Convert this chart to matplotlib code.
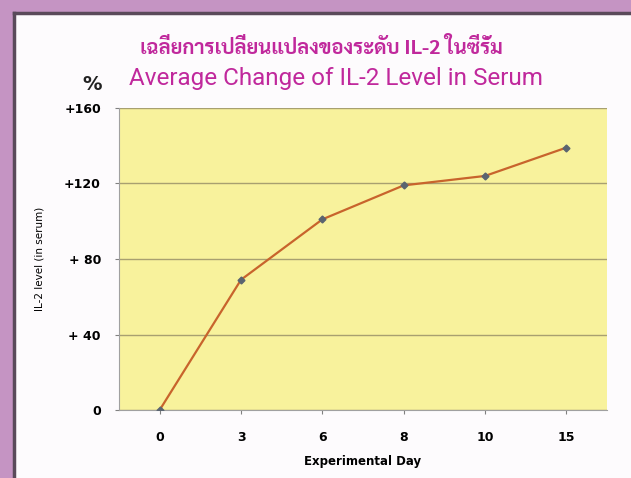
import matplotlib
matplotlib.use("Agg")
import matplotlib.pyplot as plt
from matplotlib.patches import Rectangle

plt.rcParams["font.family"] = ["DejaVu Sans"]

# data
days = ["0", "3", "6", "8", "10", "15"]
il2_change = [0, 69, 101, 119, 124, 139]
y_ticks = [0, 40, 80, 120, 160]
y_tick_labels = ["0", "+ 40", "+ 80", "+120", "+160"]

title_th = "เฉลี่ยการเปลี่ยนแปลงของระดับ IL-2 ในซีรั่ม"
title_en = "Average Change of IL-2 Level in Serum"

fig = plt.figure(figsize=(6.31, 4.78), dpi=100)
fig.patch.set_facecolor("#c594c3")

# white slide panel with a dark edge on the top and left
fig.patches.append(Rectangle((15 / 631, 0), 1, 1 - 14 / 478, transform=fig.transFigure,
                             facecolor="#fdfbfd", edgecolor="none", zorder=-2))
fig.lines.append(plt.Line2D([14 / 631, 14 / 631], [0, 1 - 13 / 478], transform=fig.transFigure,
                            color="#5a4a5a", lw=2.5, zorder=-1))
fig.lines.append(plt.Line2D([14 / 631, 1], [1 - 13 / 478, 1 - 13 / 478], transform=fig.transFigure,
                            color="#5a4a5a", lw=2.5, zorder=-1))

ax = fig.add_axes([119 / 631, 1 - 410 / 478, (607 - 119) / 631, (410 - 108) / 478])
ax.set_facecolor("#f8f29c")

x = range(len(days))
ax.plot(x, il2_change, color="#c8642c", lw=1.6, zorder=3)
ax.plot(x, il2_change, ls="none", marker="D", ms=3.5, color="#5a6470", zorder=4)

ax.set_xlim(-0.5, len(days) - 0.5)
ax.set_ylim(0, 160)
ax.set_xticks(list(x))
ax.set_xticklabels(days, fontsize=9, fontweight="bold")
ax.set_yticks(y_ticks)
ax.set_yticklabels(y_tick_labels, fontsize=9, fontweight="bold")
ax.tick_params(axis="y", length=3, color="#808080", pad=10)
ax.tick_params(axis="x", length=3, color="#808080", pad=12)
ax.yaxis.grid(True, color="#a8a070", lw=1)
ax.set_axisbelow(True)
for s in ["top", "right"]:
    ax.spines[s].set_visible(False)
for s in ["left", "bottom"]:
    ax.spines[s].set_color("#a0a0a0")

ax.set_xlabel("Experimental Day", fontsize=8.5, fontweight="bold", labelpad=8)
ax.set_ylabel("IL-2 level (in serum)", fontsize=7.5, labelpad=14)

fig.text(0.51, 1 - 47 / 478, title_th, ha="center", va="center", fontsize=14.5,
         fontweight="bold", color="#c0289c",
         family=["Sarabun", "Noto Sans Thai", "DejaVu Sans"])
fig.text(0.532, 1 - 78 / 478, title_en, ha="center", va="center", fontsize=17.5,
         color="#c0289c", family=["Roboto", "DejaVu Sans"])
fig.text(92 / 631, 1 - 84 / 478, "%", ha="center", va="center", fontsize=14,
         fontweight="bold", color="#222222")

fig.savefig("out.png", dpi=100)
